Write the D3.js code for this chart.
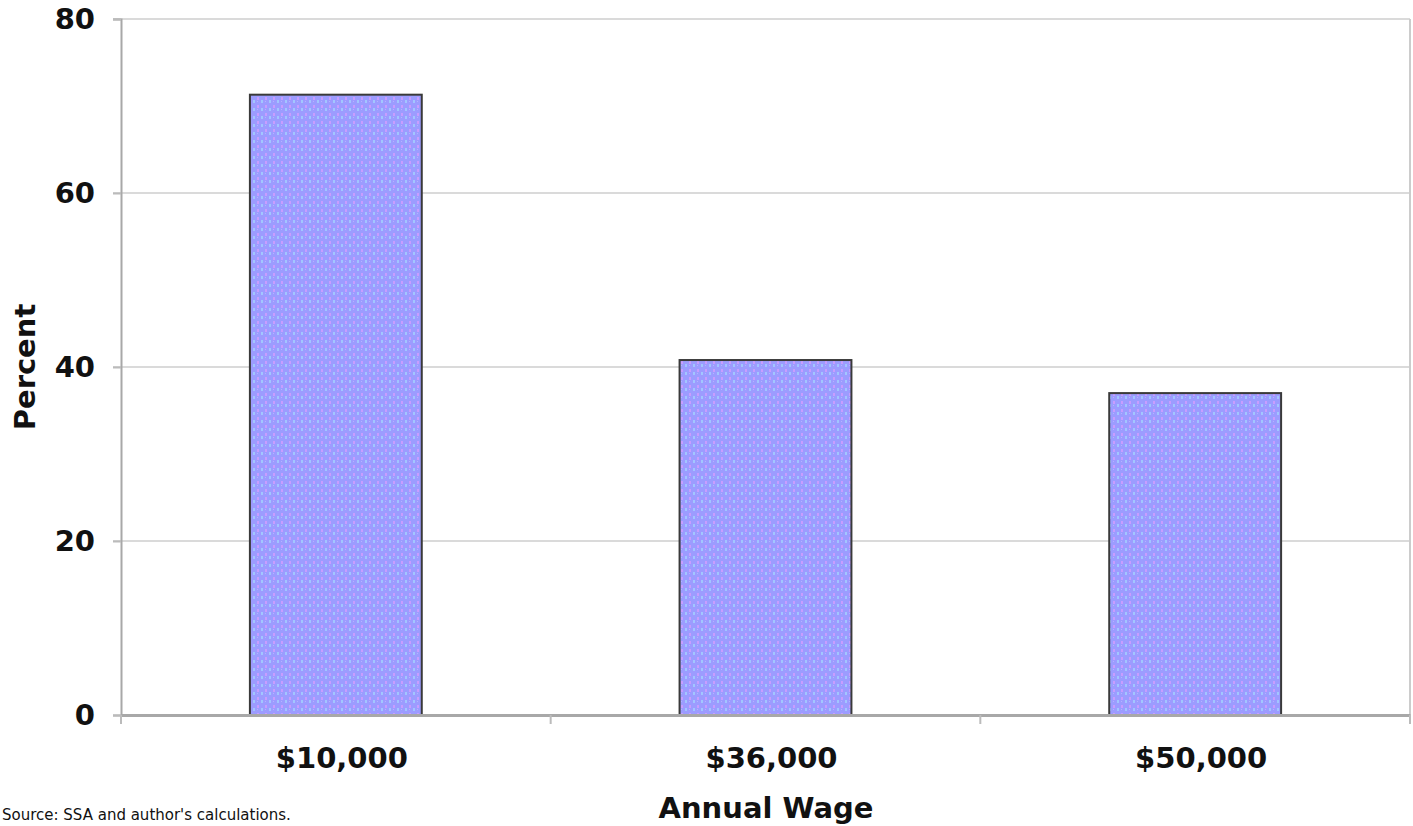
<!DOCTYPE html>
<html>
<head>
<meta charset="utf-8">
<script src="https://cdn.jsdelivr.net/npm/d3@7"></script>
<style>
  html, body { margin: 0; padding: 0; background: #fff; overflow: hidden; }
  svg { display: block; }
  text { font-family: "DejaVu Sans", Verdana, sans-serif; font-weight: bold; fill: #111; }
</style>
</head>
<body>
<svg id="chart" width="1413" height="826"></svg>
<script>
const categories = ["$10,000", "$36,000", "$50,000"];
const values = [71.3, 40.8, 37.0];
const yTicks = [0, 20, 40, 60, 80];
const xTitle = "Annual Wage";
const yTitle = "Percent";
const sourceNote = "Source: SSA and author's calculations.";

const svg = d3.select("#chart");
const margin = { left: 121, right: 3, top: 19, bottom: 111 };
const W = 1413, H = 826;
const x = d3.scaleBand().domain(categories).range([margin.left, W - margin.right]).paddingInner(0.6).paddingOuter(0.3);
const y = d3.scaleLinear().domain([0, 80]).range([H - margin.bottom, margin.top]);

// pattern for bars
const defs = svg.append("defs");
const pat = defs.append("pattern").attr("id", "dots").attr("width", 8).attr("height", 8).attr("patternUnits", "userSpaceOnUse");
pat.append("rect").attr("width", 8).attr("height", 8).attr("fill", "#9c9cff");
pat.append("rect").attr("x", 1).attr("y", 1).attr("width", 2).attr("height", 3).attr("fill", "#c89dff");
pat.append("rect").attr("x", 5).attr("y", 4).attr("width", 2).attr("height", 3).attr("fill", "#a2c6ff");
pat.append("rect").attr("x", 1).attr("y", 5).attr("width", 1).attr("height", 1).attr("fill", "#b4b4ff");

// gridlines
svg.append("g").selectAll("line").data(yTicks.filter(d => d > 0)).join("line")
  .attr("x1", margin.left - 8).attr("x2", W - margin.right)
  .attr("y1", d => y(d)).attr("y2", d => y(d))
  .attr("stroke", "#dadada").attr("stroke-width", 2);

// right border
svg.append("line").attr("x1", W - margin.right).attr("x2", W - margin.right)
  .attr("y1", y(80)).attr("y2", y(0) + 9).attr("stroke", "#cccccc").attr("stroke-width", 2);

// y axis
const yAxis = d3.axisLeft(y).tickValues(yTicks).tickSize(8).tickPadding(22).tickFormat(d3.format("d"));
const gy = svg.append("g").attr("transform", `translate(${margin.left},0)`).call(yAxis);
gy.select(".domain").attr("stroke", "#a8a8a8").attr("stroke-width", 2);
gy.selectAll(".tick line").attr("stroke", "#bbbbbb").attr("stroke-width", 2);
gy.selectAll(".tick text").style("font-size", "29px").attr("fill", "#111").attr("dx", 4);

// bars
svg.append("g").selectAll("rect").data(values).join("rect")
  .attr("x", (d, i) => x(categories[i]))
  .attr("y", d => y(d))
  .attr("width", x.bandwidth())
  .attr("height", d => y(0) - y(d))
  .attr("fill", "url(#dots)")
  .attr("stroke", "#3a3a3a").attr("stroke-width", 2);

// x axis
const xAxis = d3.axisBottom(x).tickSize(0).tickPadding(32);
const gx = svg.append("g").attr("transform", `translate(0,${y(0)})`).call(xAxis);
gx.select(".domain").attr("stroke", "#a8a8a8").attr("stroke-width", 3);
gx.selectAll(".tick text").style("font-size", "29px").attr("fill", "#111").attr("dx", 6);
// x boundary tick marks
const bounds = d3.range(categories.length + 1).map(i => margin.left + (W - margin.right - margin.left) * i / categories.length);
svg.append("g").selectAll("line").data(bounds).join("line")
  .attr("x1", d => d).attr("x2", d => d)
  .attr("y1", y(0)).attr("y2", y(0) + 9)
  .attr("stroke", "#bbbbbb").attr("stroke-width", 2);

// titles
svg.append("text").attr("x", 766).attr("y", 818)
  .attr("text-anchor", "middle").style("font-size", "29px").text(xTitle);
svg.append("text").attr("transform", `translate(35,${(y(0) + y(80)) / 2}) rotate(-90)`)
  .attr("text-anchor", "middle").style("font-size", "29px").text(yTitle);

// source note
svg.append("text").attr("x", 2).attr("y", 820)
  .style("font-size", "15px").style("font-weight", "normal").attr("fill", "#777").text(sourceNote);
</script>
</body>
</html>
